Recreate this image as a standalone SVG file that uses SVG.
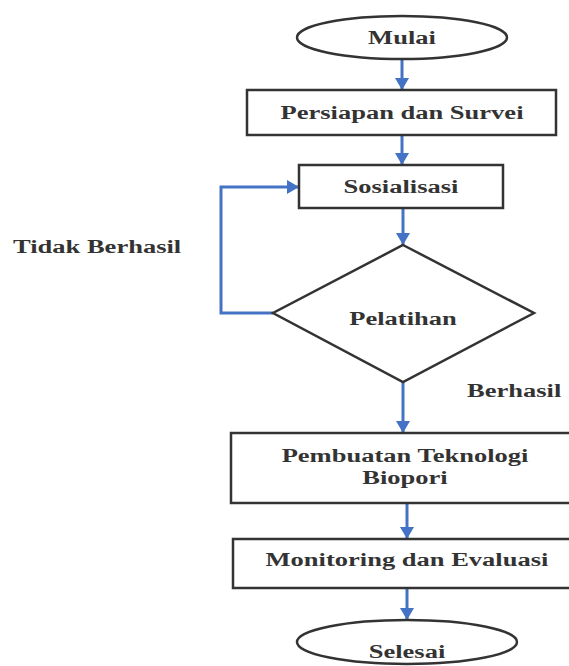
<svg xmlns="http://www.w3.org/2000/svg" width="569" height="666" viewBox="0 0 569 666">
<style>
.n{fill:#fff;stroke:#333;stroke-width:2.5}
.t{font-family:"Liberation Serif","Times New Roman",serif;font-weight:bold;font-size:19.5px;fill:#333;text-anchor:middle}
.l{font-family:"Liberation Serif","Times New Roman",serif;font-weight:bold;font-size:19.5px;fill:#333}
.c{fill:none;stroke:#4472C4;stroke-width:3}
</style>
<defs>
<marker id="ah" markerUnits="userSpaceOnUse" markerWidth="14" markerHeight="14" refX="12" refY="7" orient="auto">
<path d="M0,0 L12,7 L0,14 Z" fill="#4472C4"/>
</marker>
</defs>
<g id="connectors">
<line class="c" x1="402" y1="59" x2="402" y2="90" marker-end="url(#ah)"/>
<line class="c" x1="402" y1="135" x2="402" y2="165" marker-end="url(#ah)"/>
<line class="c" x1="403" y1="208" x2="403" y2="245" marker-end="url(#ah)"/>
<polyline class="c" points="273,313 221,313 221,187 299,187" marker-end="url(#ah)"/>
<line class="c" x1="403" y1="382" x2="403" y2="433" marker-end="url(#ah)"/>
<line class="c" x1="407" y1="503" x2="407" y2="539" marker-end="url(#ah)"/>
<line class="c" x1="407" y1="588" x2="407" y2="620" marker-end="url(#ah)"/>
<text class="l" transform="translate(13,253) scale(1.36,1)">Tidak Berhasil</text>
<text class="l" transform="translate(467,397) scale(1.36,1)">Berhasil</text>
</g>
<g id="mulai">
<ellipse class="n" cx="402" cy="37.5" rx="105" ry="21.5"/>
<text class="t" transform="translate(402,44) scale(1.36,1)">Mulai</text>
</g>
<g id="persiapan">
<rect class="n" x="247" y="90" width="309" height="45"/>
<text class="t" transform="translate(402,119) scale(1.36,1)">Persiapan dan Survei</text>
</g>
<g id="sosialisasi">
<rect class="n" x="299" y="165" width="204" height="43"/>
<text class="t" transform="translate(401,193) scale(1.36,1)">Sosialisasi</text>
</g>
<g id="pelatihan">
<polygon class="n" points="403,245 534,313 403,382 273,313"/>
<text class="t" transform="translate(403,325) scale(1.36,1)">Pelatihan</text>
</g>
<g id="pembuatan">
<rect class="n" x="231" y="433" width="350" height="70"/>
<text class="t" transform="translate(405,462) scale(1.36,1)">Pembuatan Teknologi</text>
<text class="t" transform="translate(405,484) scale(1.36,1)">Biopori</text>
</g>
<g id="monitoring">
<rect class="n" x="233" y="539" width="350" height="49"/>
<text class="t" transform="translate(407,566) scale(1.36,1)">Monitoring dan Evaluasi</text>
</g>
<g id="selesai">
<ellipse class="n" cx="407" cy="642" rx="110" ry="22"/>
<text class="t" transform="translate(407,658) scale(1.36,1)">Selesai</text>
</g>
</svg>
